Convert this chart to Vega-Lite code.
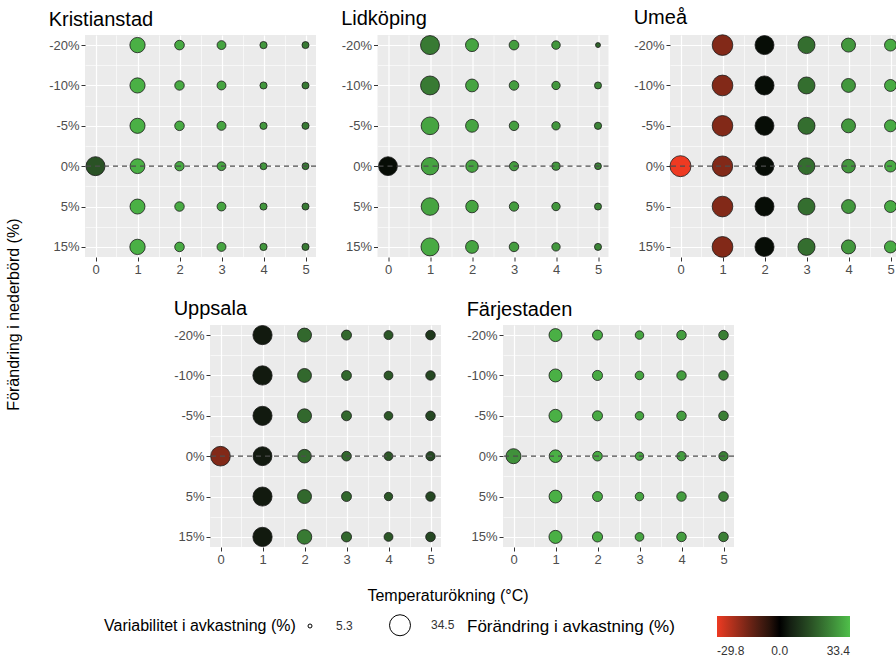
{
  "$schema": "https://vega.github.io/schema/vega-lite/v6.json",
  "autosize": {"type": "pad"},
  "padding": {"left": 5, "top": 8, "right": 0, "bottom": 0},
  "background": "white",
  "title": {"text": "Förändring i nederbörd (%)", "orient": "left", "anchor": "middle", "frame": "bounds", "fontSize": 16, "offset": 14, "baseline": "alphabetic", "dx": 18},
  "config": {
    "font": "Liberation Sans",
    "view": {"fill": "#EBEBEB", "stroke": null},
    "axis": {"domain": false, "tickColor": "#333333", "tickSize": 4, "labelColor": "#4d4d4d", "labelFontSize": 13, "gridColor": "#ffffff", "labelPadding": 2, "titleFontSize": 16, "titleFontWeight": "normal", "titleColor": "#000000"},
    "title": {"fontSize": 20, "fontWeight": "normal", "anchor": "start", "baseline": "alphabetic", "offset": 5, "color": "#000000"},
    "legend": {"titleFontWeight": "normal", "titleColor": "#000000", "titleFontSize": 16, "labelFontSize": 12, "labelColor": "#333333", "titleLimit": 400}
  },
  "datasets": {
    "d": [
      {"city":"Kristianstad","temp":0,"precip":"0%","change":15,"var":29.0},
      {"city":"Kristianstad","temp":1,"precip":"-20%","change":31,"var":20.3},
      {"city":"Kristianstad","temp":1,"precip":"-10%","change":31,"var":20.0},
      {"city":"Kristianstad","temp":1,"precip":"-5%","change":31,"var":19.9},
      {"city":"Kristianstad","temp":1,"precip":"0%","change":31,"var":19.3},
      {"city":"Kristianstad","temp":1,"precip":"5%","change":31,"var":19.6},
      {"city":"Kristianstad","temp":1,"precip":"15%","change":31,"var":20.4},
      {"city":"Kristianstad","temp":2,"precip":"-20%","change":30,"var":10.6},
      {"city":"Kristianstad","temp":2,"precip":"-10%","change":30,"var":10.4},
      {"city":"Kristianstad","temp":2,"precip":"-5%","change":30,"var":10.5},
      {"city":"Kristianstad","temp":2,"precip":"0%","change":30,"var":10.2},
      {"city":"Kristianstad","temp":2,"precip":"5%","change":30,"var":10.4},
      {"city":"Kristianstad","temp":2,"precip":"15%","change":30,"var":10.5},
      {"city":"Kristianstad","temp":3,"precip":"-20%","change":29,"var":9.6},
      {"city":"Kristianstad","temp":3,"precip":"-10%","change":29,"var":9.7},
      {"city":"Kristianstad","temp":3,"precip":"-5%","change":29,"var":9.8},
      {"city":"Kristianstad","temp":3,"precip":"0%","change":29,"var":9.5},
      {"city":"Kristianstad","temp":3,"precip":"5%","change":29,"var":9.6},
      {"city":"Kristianstad","temp":3,"precip":"15%","change":29,"var":9.7},
      {"city":"Kristianstad","temp":4,"precip":"-20%","change":27,"var":7.8},
      {"city":"Kristianstad","temp":4,"precip":"-10%","change":27,"var":7.7},
      {"city":"Kristianstad","temp":4,"precip":"-5%","change":27,"var":7.8},
      {"city":"Kristianstad","temp":4,"precip":"0%","change":27,"var":7.6},
      {"city":"Kristianstad","temp":4,"precip":"5%","change":27,"var":7.7},
      {"city":"Kristianstad","temp":4,"precip":"15%","change":27,"var":7.8},
      {"city":"Kristianstad","temp":5,"precip":"-20%","change":22,"var":7.6},
      {"city":"Kristianstad","temp":5,"precip":"-10%","change":22,"var":7.6},
      {"city":"Kristianstad","temp":5,"precip":"-5%","change":22,"var":7.7},
      {"city":"Kristianstad","temp":5,"precip":"0%","change":22,"var":7.5},
      {"city":"Kristianstad","temp":5,"precip":"5%","change":22,"var":7.6},
      {"city":"Kristianstad","temp":5,"precip":"15%","change":22,"var":7.7},

      {"city":"Lidköping","temp":0,"precip":"0%","change":1.5,"var":28.6},
      {"city":"Lidköping","temp":1,"precip":"-20%","change":22,"var":29.0},
      {"city":"Lidköping","temp":1,"precip":"-10%","change":22,"var":28.8},
      {"city":"Lidköping","temp":1,"precip":"-5%","change":29,"var":25.8},
      {"city":"Lidköping","temp":1,"precip":"0%","change":29,"var":25.2},
      {"city":"Lidköping","temp":1,"precip":"5%","change":29,"var":25.5},
      {"city":"Lidköping","temp":1,"precip":"15%","change":30,"var":26.5},
      {"city":"Lidköping","temp":2,"precip":"-20%","change":29,"var":15.8},
      {"city":"Lidköping","temp":2,"precip":"-10%","change":29,"var":15.5},
      {"city":"Lidköping","temp":2,"precip":"-5%","change":29,"var":15.6},
      {"city":"Lidköping","temp":2,"precip":"0%","change":29,"var":14.8},
      {"city":"Lidköping","temp":2,"precip":"5%","change":29,"var":15.0},
      {"city":"Lidköping","temp":2,"precip":"15%","change":29,"var":15.6},
      {"city":"Lidköping","temp":3,"precip":"-20%","change":28,"var":10.7},
      {"city":"Lidköping","temp":3,"precip":"-10%","change":28,"var":10.5},
      {"city":"Lidköping","temp":3,"precip":"-5%","change":28,"var":10.4},
      {"city":"Lidköping","temp":3,"precip":"0%","change":28,"var":10.0},
      {"city":"Lidköping","temp":3,"precip":"5%","change":28,"var":10.2},
      {"city":"Lidköping","temp":3,"precip":"15%","change":28,"var":10.5},
      {"city":"Lidköping","temp":4,"precip":"-20%","change":27,"var":9.2},
      {"city":"Lidköping","temp":4,"precip":"-10%","change":27,"var":9.0},
      {"city":"Lidköping","temp":4,"precip":"-5%","change":27,"var":9.0},
      {"city":"Lidköping","temp":4,"precip":"0%","change":27,"var":8.8},
      {"city":"Lidköping","temp":4,"precip":"5%","change":27,"var":9.0},
      {"city":"Lidköping","temp":4,"precip":"15%","change":27,"var":9.0},
      {"city":"Lidköping","temp":5,"precip":"-20%","change":18,"var":5.9},
      {"city":"Lidköping","temp":5,"precip":"-10%","change":24,"var":7.6},
      {"city":"Lidköping","temp":5,"precip":"-5%","change":24,"var":7.8},
      {"city":"Lidköping","temp":5,"precip":"0%","change":24,"var":7.4},
      {"city":"Lidköping","temp":5,"precip":"5%","change":24,"var":7.6},
      {"city":"Lidköping","temp":5,"precip":"15%","change":24,"var":7.6},

      {"city":"Umeå","temp":0,"precip":"0%","change":-29.8,"var":34.5},
      {"city":"Umeå","temp":1,"precip":"-20%","change":-17,"var":33.5},
      {"city":"Umeå","temp":1,"precip":"-10%","change":-17,"var":33.7},
      {"city":"Umeå","temp":1,"precip":"-5%","change":-17,"var":33.4},
      {"city":"Umeå","temp":1,"precip":"0%","change":-17,"var":33.0},
      {"city":"Umeå","temp":1,"precip":"5%","change":-17,"var":33.6},
      {"city":"Umeå","temp":1,"precip":"15%","change":-17,"var":33.8},
      {"city":"Umeå","temp":2,"precip":"-20%","change":1.5,"var":29.0},
      {"city":"Umeå","temp":2,"precip":"-10%","change":1.5,"var":29.2},
      {"city":"Umeå","temp":2,"precip":"-5%","change":1.5,"var":28.8},
      {"city":"Umeå","temp":2,"precip":"0%","change":1.5,"var":28.4},
      {"city":"Umeå","temp":2,"precip":"5%","change":1.5,"var":29.0},
      {"city":"Umeå","temp":2,"precip":"15%","change":1.5,"var":29.3},
      {"city":"Umeå","temp":3,"precip":"-20%","change":20,"var":24.1},
      {"city":"Umeå","temp":3,"precip":"-10%","change":20,"var":24.0},
      {"city":"Umeå","temp":3,"precip":"-5%","change":20,"var":24.2},
      {"city":"Umeå","temp":3,"precip":"0%","change":20,"var":23.5},
      {"city":"Umeå","temp":3,"precip":"5%","change":20,"var":24.0},
      {"city":"Umeå","temp":3,"precip":"15%","change":20,"var":24.3},
      {"city":"Umeå","temp":4,"precip":"-20%","change":27,"var":17.7},
      {"city":"Umeå","temp":4,"precip":"-10%","change":27,"var":17.5},
      {"city":"Umeå","temp":4,"precip":"-5%","change":27,"var":17.7},
      {"city":"Umeå","temp":4,"precip":"0%","change":27,"var":17.0},
      {"city":"Umeå","temp":4,"precip":"5%","change":27,"var":17.5},
      {"city":"Umeå","temp":4,"precip":"15%","change":27,"var":17.8},
      {"city":"Umeå","temp":5,"precip":"-20%","change":30,"var":14.0},
      {"city":"Umeå","temp":5,"precip":"-10%","change":30,"var":14.0},
      {"city":"Umeå","temp":5,"precip":"-5%","change":30,"var":14.1},
      {"city":"Umeå","temp":5,"precip":"0%","change":30,"var":13.6},
      {"city":"Umeå","temp":5,"precip":"5%","change":30,"var":14.0},
      {"city":"Umeå","temp":5,"precip":"15%","change":30,"var":14.2},

      {"city":"Uppsala","temp":0,"precip":"0%","change":-17,"var":30.8},
      {"city":"Uppsala","temp":1,"precip":"-20%","change":4,"var":29.5},
      {"city":"Uppsala","temp":1,"precip":"-10%","change":4,"var":29.8},
      {"city":"Uppsala","temp":1,"precip":"-5%","change":4,"var":29.3},
      {"city":"Uppsala","temp":1,"precip":"0%","change":4,"var":28.8},
      {"city":"Uppsala","temp":1,"precip":"5%","change":4,"var":29.3},
      {"city":"Uppsala","temp":1,"precip":"15%","change":4,"var":29.8},
      {"city":"Uppsala","temp":2,"precip":"-20%","change":19,"var":17.7},
      {"city":"Uppsala","temp":2,"precip":"-10%","change":19,"var":17.5},
      {"city":"Uppsala","temp":2,"precip":"-5%","change":19,"var":17.8},
      {"city":"Uppsala","temp":2,"precip":"0%","change":19,"var":17.0},
      {"city":"Uppsala","temp":2,"precip":"5%","change":19,"var":17.7},
      {"city":"Uppsala","temp":2,"precip":"15%","change":22,"var":18.8},
      {"city":"Uppsala","temp":3,"precip":"-20%","change":19,"var":11.1},
      {"city":"Uppsala","temp":3,"precip":"-10%","change":19,"var":10.9},
      {"city":"Uppsala","temp":3,"precip":"-5%","change":19,"var":11.0},
      {"city":"Uppsala","temp":3,"precip":"0%","change":19,"var":10.6},
      {"city":"Uppsala","temp":3,"precip":"5%","change":19,"var":11.0},
      {"city":"Uppsala","temp":3,"precip":"15%","change":19,"var":11.2},
      {"city":"Uppsala","temp":4,"precip":"-20%","change":16,"var":9.8},
      {"city":"Uppsala","temp":4,"precip":"-10%","change":16,"var":9.6},
      {"city":"Uppsala","temp":4,"precip":"-5%","change":16,"var":9.3},
      {"city":"Uppsala","temp":4,"precip":"0%","change":16,"var":9.5},
      {"city":"Uppsala","temp":4,"precip":"5%","change":16,"var":9.0},
      {"city":"Uppsala","temp":4,"precip":"15%","change":16,"var":9.6},
      {"city":"Uppsala","temp":5,"precip":"-20%","change":10,"var":10.6},
      {"city":"Uppsala","temp":5,"precip":"-10%","change":13,"var":10.4},
      {"city":"Uppsala","temp":5,"precip":"-5%","change":13,"var":10.5},
      {"city":"Uppsala","temp":5,"precip":"0%","change":13,"var":10.0},
      {"city":"Uppsala","temp":5,"precip":"5%","change":13,"var":10.4},
      {"city":"Uppsala","temp":5,"precip":"15%","change":13,"var":10.6},

      {"city":"Färjestaden","temp":0,"precip":"0%","change":26,"var":19.7},
      {"city":"Färjestaden","temp":1,"precip":"-20%","change":31,"var":15.8},
      {"city":"Färjestaden","temp":1,"precip":"-10%","change":31,"var":15.8},
      {"city":"Färjestaden","temp":1,"precip":"-5%","change":31,"var":15.9},
      {"city":"Färjestaden","temp":1,"precip":"0%","change":31,"var":15.2},
      {"city":"Färjestaden","temp":1,"precip":"5%","change":31,"var":15.6},
      {"city":"Färjestaden","temp":1,"precip":"15%","change":31,"var":16.0},
      {"city":"Färjestaden","temp":2,"precip":"-20%","change":30,"var":11.1},
      {"city":"Färjestaden","temp":2,"precip":"-10%","change":30,"var":11.2},
      {"city":"Färjestaden","temp":2,"precip":"-5%","change":30,"var":11.1},
      {"city":"Färjestaden","temp":2,"precip":"0%","change":30,"var":10.6},
      {"city":"Färjestaden","temp":2,"precip":"5%","change":30,"var":11.0},
      {"city":"Färjestaden","temp":2,"precip":"15%","change":30,"var":11.3},
      {"city":"Färjestaden","temp":3,"precip":"-20%","change":29,"var":9.2},
      {"city":"Färjestaden","temp":3,"precip":"-10%","change":29,"var":9.3},
      {"city":"Färjestaden","temp":3,"precip":"-5%","change":29,"var":9.2},
      {"city":"Färjestaden","temp":3,"precip":"0%","change":29,"var":9.0},
      {"city":"Färjestaden","temp":3,"precip":"5%","change":29,"var":9.2},
      {"city":"Färjestaden","temp":3,"precip":"15%","change":29,"var":9.4},
      {"city":"Färjestaden","temp":4,"precip":"-20%","change":28,"var":10.4},
      {"city":"Färjestaden","temp":4,"precip":"-10%","change":28,"var":10.3},
      {"city":"Färjestaden","temp":4,"precip":"-5%","change":28,"var":10.4},
      {"city":"Färjestaden","temp":4,"precip":"0%","change":28,"var":10.2},
      {"city":"Färjestaden","temp":4,"precip":"5%","change":28,"var":10.4},
      {"city":"Färjestaden","temp":4,"precip":"15%","change":28,"var":10.5},
      {"city":"Färjestaden","temp":5,"precip":"-20%","change":23,"var":10.5},
      {"city":"Färjestaden","temp":5,"precip":"-10%","change":23,"var":10.4},
      {"city":"Färjestaden","temp":5,"precip":"-5%","change":23,"var":10.5},
      {"city":"Färjestaden","temp":5,"precip":"0%","change":23,"var":10.2},
      {"city":"Färjestaden","temp":5,"precip":"5%","change":23,"var":10.6},
      {"city":"Färjestaden","temp":5,"precip":"15%","change":23,"var":10.5}
    ]
  },
  "data": {"name": "d"},
  "spacing": 22,
  "vconcat": [
    {
      "spacing": 61.5,
      "bounds": "flush",
      "hconcat": [
        {
          "width": 231, "height": 222,
          "title": {"text": "Kristianstad"},
          "layer": [
            {"transform": [{"filter": {"field": "city", "equal": "Kristianstad"}}],
             "mark": {"type": "circle", "opacity": 0},
             "encoding": {
               "x": {"field": "temp", "type": "quantitative", "scale": {"domain": [-0.25, 5.25], "nice": false, "zero": false}, "axis": {"values": [0.5,1.5,2.5,3.5,4.5], "orient": "bottom", "labels": false, "ticks": false, "grid": true, "gridWidth": 0.6, "title": null}},
               "y": {"field": "precip", "type": "ordinal", "scale": {"type": "point", "domain": ["-20%","-10%","-5%","0%","5%","15%"], "padding": 0.25}, "axis": {"values": ["-20%","-10%","-5%","0%","5%"], "orient": "left", "labels": false, "ticks": false, "grid": true, "gridWidth": 0.6, "tickOffset": 20.2, "title": null}}
             }},
            {"transform": [{"filter": {"field": "city", "equal": "Kristianstad"}}],
             "mark": {"type": "circle", "opacity": 1, "stroke": "#1a1a1a", "strokeWidth": 0.8},
             "encoding": {
               "x": {"field": "temp", "type": "quantitative", "scale": {"domain": [-0.25, 5.25], "nice": false, "zero": false}, "axis": {"orient": "bottom", "values": [0,1,2,3,4,5], "format": "d", "grid": true, "gridWidth": 1.2, "labelFlush": false, "title": null}},
               "y": {"field": "precip", "type": "ordinal", "scale": {"type": "point", "domain": ["-20%","-10%","-5%","0%","5%","15%"], "padding": 0.25}, "axis": {"orient": "left", "grid": true, "gridWidth": 1.2, "title": null}},
               "size": {"field": "var", "type": "quantitative", "scale": {"domain": [5.3, 34.5], "range": [16, 441], "zero": false},
                        "legend": {"title": "Variabilitet i avkastning (%)", "orient": "none", "legendX": 19, "legendY": 579, "direction": "horizontal", "titleOrient": "left", "titlePadding": 8, "values": [5.3, 34.5], "format": ".1f", "symbolStrokeColor": "#000000", "symbolFillColor": "#ffffff", "symbolStrokeWidth": 1, "columnPadding": 34, "labelOffset": 20,
                                   "encode": {"symbols": {"update": {"fill": {"value": "#ffffff"}, "stroke": {"value": "#000000"}, "strokeWidth": {"value": 1}}}}}},
               "color": {"field": "change", "type": "quantitative", "scale": {"domain": [-29.8, 0, 33.4], "range": ["#EE3A22", "#000000", "#4FBF4A"], "interpolate": "lab"},
                         "legend": {"title": "Förändring i avkastning (%)", "orient": "none", "legendX": 382, "legendY": 581, "direction": "horizontal", "titleOrient": "left", "titleFontSize": 17, "gradientLength": 133, "gradientThickness": 21, "values": [-29.8, 0, 33.4], "labelExpr": "replace(format(datum.value, '.1f'), '−', '-')", "labelOffset": 9, "titlePadding": 42}}
             }},
            {"data": {"values": [{}]},
             "mark": {"type": "rule", "strokeDash": [5, 4], "color": "#4d4d4d", "strokeWidth": 1.2},
             "encoding": {"y": {"datum": "0%", "type": "ordinal", "axis": null}}}
          ],
          "resolve": {"axis": {"x": "independent", "y": "independent"}}
        },
        {
          "width": 231, "height": 222,
          "title": {"text": "Lidköping"},
          "layer": [
            {"transform": [{"filter": {"field": "city", "equal": "Lidköping"}}],
             "mark": {"type": "circle", "opacity": 0},
             "encoding": {
               "x": {"field": "temp", "type": "quantitative", "scale": {"domain": [-0.25, 5.25], "nice": false, "zero": false}, "axis": {"values": [0.5,1.5,2.5,3.5,4.5], "orient": "bottom", "labels": false, "ticks": false, "grid": true, "gridWidth": 0.6, "title": null}},
               "y": {"field": "precip", "type": "ordinal", "scale": {"type": "point", "domain": ["-20%","-10%","-5%","0%","5%","15%"], "padding": 0.25}, "axis": {"values": ["-20%","-10%","-5%","0%","5%"], "orient": "left", "labels": false, "ticks": false, "grid": true, "gridWidth": 0.6, "tickOffset": 20.2, "title": null}}
             }},
            {"transform": [{"filter": {"field": "city", "equal": "Lidköping"}}],
             "mark": {"type": "circle", "opacity": 1, "stroke": "#1a1a1a", "strokeWidth": 0.8},
             "encoding": {
               "x": {"field": "temp", "type": "quantitative", "scale": {"domain": [-0.25, 5.25], "nice": false, "zero": false}, "axis": {"orient": "bottom", "values": [0,1,2,3,4,5], "format": "d", "grid": true, "gridWidth": 1.2, "labelFlush": false, "title": null}},
               "y": {"field": "precip", "type": "ordinal", "scale": {"type": "point", "domain": ["-20%","-10%","-5%","0%","5%","15%"], "padding": 0.25}, "axis": {"orient": "left", "grid": true, "gridWidth": 1.2, "title": null}},
               "size": {"field": "var", "type": "quantitative", "scale": {"domain": [5.3, 34.5], "range": [16, 441], "zero": false}},
               "color": {"field": "change", "type": "quantitative", "scale": {"domain": [-29.8, 0, 33.4], "range": ["#EE3A22", "#000000", "#4FBF4A"], "interpolate": "lab"}}
             }},
            {"data": {"values": [{}]},
             "mark": {"type": "rule", "strokeDash": [5, 4], "color": "#4d4d4d", "strokeWidth": 1.2},
             "encoding": {"y": {"datum": "0%", "type": "ordinal", "axis": null}}}
          ],
          "resolve": {"axis": {"x": "independent", "y": "independent"}}
        },
        {
          "width": 231, "height": 222,
          "title": {"text": "Umeå"},
          "layer": [
            {"transform": [{"filter": {"field": "city", "equal": "Umeå"}}],
             "mark": {"type": "circle", "opacity": 0},
             "encoding": {
               "x": {"field": "temp", "type": "quantitative", "scale": {"domain": [-0.25, 5.25], "nice": false, "zero": false}, "axis": {"values": [0.5,1.5,2.5,3.5,4.5], "orient": "bottom", "labels": false, "ticks": false, "grid": true, "gridWidth": 0.6, "title": null}},
               "y": {"field": "precip", "type": "ordinal", "scale": {"type": "point", "domain": ["-20%","-10%","-5%","0%","5%","15%"], "padding": 0.25}, "axis": {"values": ["-20%","-10%","-5%","0%","5%"], "orient": "left", "labels": false, "ticks": false, "grid": true, "gridWidth": 0.6, "tickOffset": 20.2, "title": null}}
             }},
            {"transform": [{"filter": {"field": "city", "equal": "Umeå"}}],
             "mark": {"type": "circle", "opacity": 1, "stroke": "#1a1a1a", "strokeWidth": 0.8},
             "encoding": {
               "x": {"field": "temp", "type": "quantitative", "scale": {"domain": [-0.25, 5.25], "nice": false, "zero": false}, "axis": {"orient": "bottom", "values": [0,1,2,3,4,5], "format": "d", "grid": true, "gridWidth": 1.2, "labelFlush": false, "title": null}},
               "y": {"field": "precip", "type": "ordinal", "scale": {"type": "point", "domain": ["-20%","-10%","-5%","0%","5%","15%"], "padding": 0.25}, "axis": {"orient": "left", "grid": true, "gridWidth": 1.2, "title": null}},
               "size": {"field": "var", "type": "quantitative", "scale": {"domain": [5.3, 34.5], "range": [16, 441], "zero": false}},
               "color": {"field": "change", "type": "quantitative", "scale": {"domain": [-29.8, 0, 33.4], "range": ["#EE3A22", "#000000", "#4FBF4A"], "interpolate": "lab"}}
             }},
            {"data": {"values": [{}]},
             "mark": {"type": "rule", "strokeDash": [5, 4], "color": "#4d4d4d", "strokeWidth": 1.2},
             "encoding": {"y": {"datum": "0%", "type": "ordinal", "axis": null}}}
          ],
          "resolve": {"axis": {"x": "independent", "y": "independent"}}
        }
      ]
    },
    {
      "spacing": 62,
      "bounds": "flush",
      "hconcat": [
        {
          "width": 62.5, "height": 222,
          "view": {"fill": null, "stroke": null},
          "data": {"values": []},
          "mark": "point",
          "encoding": {}
        },
        {
          "width": 231, "height": 222,
          "title": {"text": "Uppsala"},
          "layer": [
            {"transform": [{"filter": {"field": "city", "equal": "Uppsala"}}],
             "mark": {"type": "circle", "opacity": 0},
             "encoding": {
               "x": {"field": "temp", "type": "quantitative", "scale": {"domain": [-0.25, 5.25], "nice": false, "zero": false}, "axis": {"values": [0.5,1.5,2.5,3.5,4.5], "orient": "bottom", "labels": false, "ticks": false, "grid": true, "gridWidth": 0.6, "title": null}},
               "y": {"field": "precip", "type": "ordinal", "scale": {"type": "point", "domain": ["-20%","-10%","-5%","0%","5%","15%"], "padding": 0.25}, "axis": {"values": ["-20%","-10%","-5%","0%","5%"], "orient": "left", "labels": false, "ticks": false, "grid": true, "gridWidth": 0.6, "tickOffset": 20.2, "title": null}}
             }},
            {"transform": [{"filter": {"field": "city", "equal": "Uppsala"}}],
             "mark": {"type": "circle", "opacity": 1, "stroke": "#1a1a1a", "strokeWidth": 0.8},
             "encoding": {
               "x": {"field": "temp", "type": "quantitative", "scale": {"domain": [-0.25, 5.25], "nice": false, "zero": false}, "axis": {"orient": "bottom", "values": [0,1,2,3,4,5], "format": "d", "grid": true, "gridWidth": 1.2, "labelFlush": false, "title": "Temperaturökning (°C)", "titleX": 237.5, "titleY": 48, "titleBaseline": "middle"}},
               "y": {"field": "precip", "type": "ordinal", "scale": {"type": "point", "domain": ["-20%","-10%","-5%","0%","5%","15%"], "padding": 0.25}, "axis": {"orient": "left", "grid": true, "gridWidth": 1.2, "title": null}},
               "size": {"field": "var", "type": "quantitative", "scale": {"domain": [5.3, 34.5], "range": [16, 441], "zero": false}},
               "color": {"field": "change", "type": "quantitative", "scale": {"domain": [-29.8, 0, 33.4], "range": ["#EE3A22", "#000000", "#4FBF4A"], "interpolate": "lab"}}
             }},
            {"data": {"values": [{}]},
             "mark": {"type": "rule", "strokeDash": [5, 4], "color": "#4d4d4d", "strokeWidth": 1.2},
             "encoding": {"y": {"datum": "0%", "type": "ordinal", "axis": null}}}
          ],
          "resolve": {"axis": {"x": "independent", "y": "independent"}}
        },
        {
          "width": 231, "height": 222,
          "title": {"text": "Färjestaden"},
          "layer": [
            {"transform": [{"filter": {"field": "city", "equal": "Färjestaden"}}],
             "mark": {"type": "circle", "opacity": 0},
             "encoding": {
               "x": {"field": "temp", "type": "quantitative", "scale": {"domain": [-0.25, 5.25], "nice": false, "zero": false}, "axis": {"values": [0.5,1.5,2.5,3.5,4.5], "orient": "bottom", "labels": false, "ticks": false, "grid": true, "gridWidth": 0.6, "title": null}},
               "y": {"field": "precip", "type": "ordinal", "scale": {"type": "point", "domain": ["-20%","-10%","-5%","0%","5%","15%"], "padding": 0.25}, "axis": {"values": ["-20%","-10%","-5%","0%","5%"], "orient": "left", "labels": false, "ticks": false, "grid": true, "gridWidth": 0.6, "tickOffset": 20.2, "title": null}}
             }},
            {"transform": [{"filter": {"field": "city", "equal": "Färjestaden"}}],
             "mark": {"type": "circle", "opacity": 1, "stroke": "#1a1a1a", "strokeWidth": 0.8},
             "encoding": {
               "x": {"field": "temp", "type": "quantitative", "scale": {"domain": [-0.25, 5.25], "nice": false, "zero": false}, "axis": {"orient": "bottom", "values": [0,1,2,3,4,5], "format": "d", "grid": true, "gridWidth": 1.2, "labelFlush": false, "title": null}},
               "y": {"field": "precip", "type": "ordinal", "scale": {"type": "point", "domain": ["-20%","-10%","-5%","0%","5%","15%"], "padding": 0.25}, "axis": {"orient": "left", "grid": true, "gridWidth": 1.2, "title": null}},
               "size": {"field": "var", "type": "quantitative", "scale": {"domain": [5.3, 34.5], "range": [16, 441], "zero": false}},
               "color": {"field": "change", "type": "quantitative", "scale": {"domain": [-29.8, 0, 33.4], "range": ["#EE3A22", "#000000", "#4FBF4A"], "interpolate": "lab"}}
             }},
            {"data": {"values": [{}]},
             "mark": {"type": "rule", "strokeDash": [5, 4], "color": "#4d4d4d", "strokeWidth": 1.2},
             "encoding": {"y": {"datum": "0%", "type": "ordinal", "axis": null}}}
          ],
          "resolve": {"axis": {"x": "independent", "y": "independent"}}
        }
      ]
    }
  ]
}
